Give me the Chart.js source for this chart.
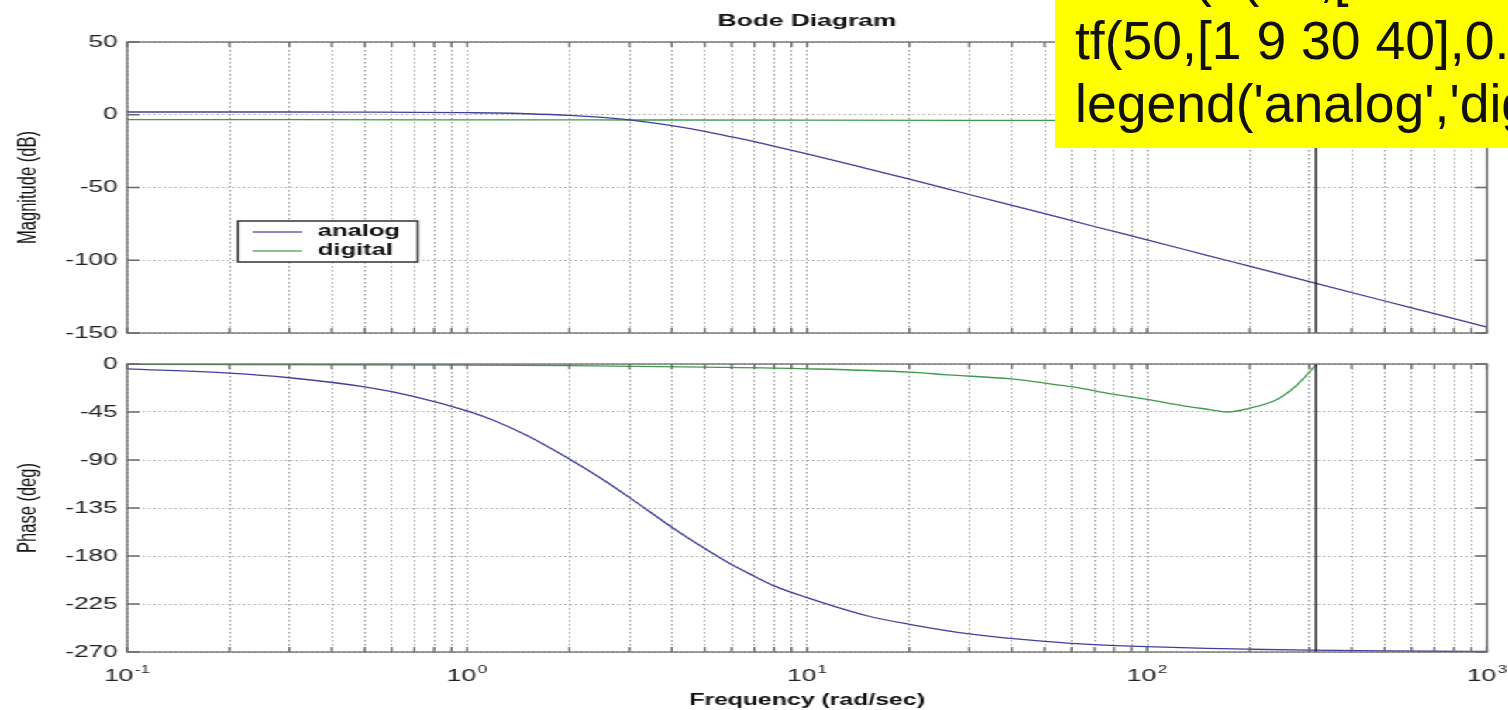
<!DOCTYPE html>
<html>
<head>
<meta charset="utf-8">
<script src="https://cdn.jsdelivr.net/npm/chart.js@4.4.1/dist/chart.umd.min.js"></script>
<style>
  html, body { margin: 0; padding: 0; background: #fff; }
  body { width: 1508px; height: 710px; overflow: hidden; position: relative; font-family: 'Liberation Sans', Arial, sans-serif; }
  /* the original plot is stretched sideways, so draw narrow and widen it */
  #stage { position: absolute; left: 0; top: 0; width: 973px; height: 710px; transform: scaleX(1.55); transform-origin: 0 0; }
  #magCanvas { position: absolute; left: 0; top: 0; }
  #phaseCanvas { position: absolute; left: 0; top: 345px; }
  #note { position: absolute; left: 1055px; top: 0; width: 453px; height: 148px; background: #ffff00; overflow: hidden; }
  #note div { position: absolute; left: 20px; white-space: nowrap; font-size: 53.5px; line-height: 63px; color: #111; }
</style>
</head>
<body>
<div id="stage">
  <canvas id="magCanvas" width="973" height="345"></canvas>
  <canvas id="phaseCanvas" width="973" height="365"></canvas>
</div>
<div id="note">
  <div style="top:-54px">bode(tf(50,[1 9 30 40]),</div>
  <div style="top:9px">tf(50,[1 9 30 40],0.01))</div>
  <div style="top:72px">legend('analog','digital')</div>
</div>
<script>
// analog curve (rad/sec, dB, deg)
const freqA = [0.1, 0.2, 0.3, 0.5, 0.7, 1, 1.2, 1.5, 2, 2.5, 3, 4, 5, 6, 7, 8, 10, 15, 20, 30, 50, 70, 100, 150, 200, 300, 500, 700, 1000];
const magA = [1.9, 1.9, 1.9, 1.8, 1.7, 1.4, 1.2, 0.7, -0.4, -1.8, -3.5, -7.5, -11.4, -15.2, -18.5, -21.6, -26.9, -37.0, -44.3, -54.8, -68.0, -76.8, -86.0, -96.6, -104.1, -114.7, -128.0, -136.7, -146.0];
const phaseA = [-4.5, -8.6, -12.9, -21.5, -30.5, -44, -53, -67, -89, -108, -125, -153, -173, -188, -199, -208, -219, -236, -244, -253, -260, -263, -265, -266.6, -267.4, -268.3, -269, -269.3, -269.5];

// digital curve, stops at the Nyquist frequency
const freqDm = [0.1, 0.3, 1, 3, 10, 30, 100, 200, 314.16];
const magD = [-3.4, -3.4, -3.5, -3.6, -3.7, -3.8, -3.9, -3.9, -3.9];
const freqDp = [0.1, 1, 2, 5, 10, 20, 26, 40, 50, 60, 80, 100, 128, 153, 172, 198, 241, 276, 314.16];
const phaseD = [-0.3, -1, -1.6, -3, -4.5, -7.6, -10.2, -14.0, -18.0, -21.3, -28.5, -33.2, -39.3, -42.7, -45.0, -41.8, -33.2, -19.7, -0.7];

const nyquist = 314.16;
const seriesNames = ['analog', 'digital'];
const seriesColors = ['#40409a', '#3f9a4a'];
const decadeValues = [0.1, 1, 10, 100, 1000];
const decadeExps = ['-1', '0', '1', '2', '3'];
const magRange = [-150, 50, 50];
const phaseRange = [-270, 0, 45];

const freqTicks = [];
[0.1, 1, 10, 100].forEach(d => {
  for (let k = 1; k < 10; k++) freqTicks.push(+(d * k).toPrecision(3));
});
freqTicks.push(1000);

const FONT = "'Liberation Sans', Arial, sans-serif";
const plotLeft = 82, plotRight = 959.4, W = 973;

const pts = (xs, ys) => xs.map((x, i) => ({ x: x, y: ys[i] }));

const matlabBox = {
  id: 'matlabBox',
  afterDraw(chart, args, opts) {
    const { ctx, chartArea: a, scales: { x, y } } = chart;
    ctx.save();
    // Nyquist line
    const nx = x.getPixelForValue(nyquist);
    ctx.strokeStyle = '#1a1a1a';
    ctx.lineWidth = 1.4;
    ctx.beginPath(); ctx.moveTo(nx, a.top); ctx.lineTo(nx, a.bottom); ctx.stroke();
    // box + inward ticks
    ctx.strokeStyle = '#6a6a6a';
    ctx.lineWidth = 1.3;
    ctx.strokeRect(a.left, a.top, a.width, a.height);
    ctx.beginPath();
    x.ticks.forEach(t => {
      const px = x.getPixelForValue(t.value);
      ctx.moveTo(px, a.top); ctx.lineTo(px, a.top + 5);
      ctx.moveTo(px, a.bottom); ctx.lineTo(px, a.bottom - 5);
    });
    y.ticks.forEach(t => {
      const py = y.getPixelForValue(t.value);
      ctx.moveTo(a.left, py); ctx.lineTo(a.left + 8, py);
      ctx.moveTo(a.right, py); ctx.lineTo(a.right - 8, py);
    });
    ctx.stroke();

    // decade labels: 10 with a raised exponent
    if (opts.decades) {
      ctx.fillStyle = '#222';
      ctx.textAlign = 'left';
      ctx.textBaseline = 'alphabetic';
      decadeValues.forEach((v, i) => {
        const px = x.getPixelForValue(v);
        ctx.font = '17px ' + FONT;
        const wBase = ctx.measureText('10').width;
        ctx.font = '11px ' + FONT;
        const wExp = ctx.measureText(decadeExps[i]).width;
        const x0 = px - (wBase + wExp + 1) / 2;
        ctx.font = '17px ' + FONT;
        ctx.fillText('10', x0, a.bottom + 29);
        ctx.font = '11px ' + FONT;
        ctx.fillText(decadeExps[i], x0 + wBase + 1, a.bottom + 21);
      });
    }
    if (opts.title) {
      ctx.fillStyle = '#111';
      ctx.font = 'bold 17px ' + FONT;
      ctx.textAlign = 'center';
      ctx.textBaseline = 'middle';
      ctx.fillText(opts.title, (a.left + a.right) / 2, 21);
    }
    if (opts.legend) {
      const lx = 153.5, ly = 221, lw = 116, lh = 41;
      ctx.fillStyle = '#fff';
      ctx.fillRect(lx, ly, lw, lh);
      ctx.strokeStyle = '#333';
      ctx.lineWidth = 1.5;
      ctx.strokeRect(lx, ly, lw, lh);
      ctx.font = 'bold 16.5px ' + FONT;
      ctx.textAlign = 'left';
      ctx.textBaseline = 'middle';
      chart.data.datasets.forEach((ds, i) => {
        const yy = 231 + i * 19;
        ctx.strokeStyle = ds.borderColor;
        ctx.lineWidth = 1.2;
        ctx.beginPath(); ctx.moveTo(163, yy + 1); ctx.lineTo(195, yy + 1); ctx.stroke();
        ctx.fillStyle = '#111';
        ctx.fillText(ds.label, 205, yy);
      });
    }
    ctx.restore();
  }
};

function xAxis(showTitle) {
  return {
    type: 'logarithmic',
    min: 0.1,
    max: 1000,
    border: { display: false, dash: [1.5, 2.5] },
    grid: { color: '#9a9a9a', lineWidth: 1, drawTicks: false },
    ticks: { display: false, autoSkip: false },
    title: {
      display: showTitle,
      text: 'Frequency (rad/sec)',
      color: '#111',
      font: { family: FONT, size: 16, weight: 'bold' },
      padding: { top: 0, bottom: 0 }
    },
    afterBuildTicks: s => { s.ticks = freqTicks.map(v => ({ value: v, major: decadeValues.includes(v) })); },
    afterFit: s => { s.height = showTitle ? 58 : 0; s.paddingLeft = 0; s.paddingRight = 0; }
  };
}

function yAxis(range, label) {
  return {
    min: range[0],
    max: range[1],
    border: { display: false, dash: [1.2, 2.2] },
    grid: { color: '#9a9a9a', lineWidth: 1, drawTicks: false },
    ticks: { stepSize: range[2], padding: 6, color: '#222', font: { family: FONT, size: 17 } },
    title: { display: true, text: label, color: '#111', font: { family: FONT, size: 16.5 }, padding: { top: 9, bottom: 0 } },
    afterFit: s => { s.width = plotLeft; s.paddingTop = 0; s.paddingBottom = 0; }
  };
}

function lineSet(i, data) {
  return {
    label: seriesNames[i],
    data: data,
    borderColor: seriesColors[i],
    borderWidth: 1.3,
    pointRadius: 0,
    cubicInterpolationMode: 'monotone',
    fill: false
  };
}

const magChart = new Chart(document.getElementById('magCanvas'), {
  type: 'line',
  data: { datasets: [lineSet(0, pts(freqA, magA)), lineSet(1, pts(freqDm, magD))] },
  options: {
    responsive: false,
    animation: false,
    events: [],
    layout: { padding: { top: 42, bottom: 12, left: 0, right: W - plotRight } },
    scales: { x: xAxis(false), y: yAxis(magRange, 'Magnitude (dB)') },
    plugins: {
      legend: { display: false },
      tooltip: { enabled: false },
      matlabBox: { title: 'Bode Diagram', legend: true }
    }
  },
  plugins: [matlabBox]
});

const phaseChart = new Chart(document.getElementById('phaseCanvas'), {
  type: 'line',
  data: { datasets: [lineSet(0, pts(freqA, phaseA)), lineSet(1, pts(freqDp, phaseD))] },
  options: {
    responsive: false,
    animation: false,
    events: [],
    layout: { padding: { top: 19, bottom: 0, left: 0, right: W - plotRight } },
    scales: { x: xAxis(true), y: yAxis(phaseRange, 'Phase (deg)') },
    plugins: {
      legend: { display: false },
      tooltip: { enabled: false },
      matlabBox: { decades: true }
    }
  },
  plugins: [matlabBox]
});
</script>
</body>
</html>
